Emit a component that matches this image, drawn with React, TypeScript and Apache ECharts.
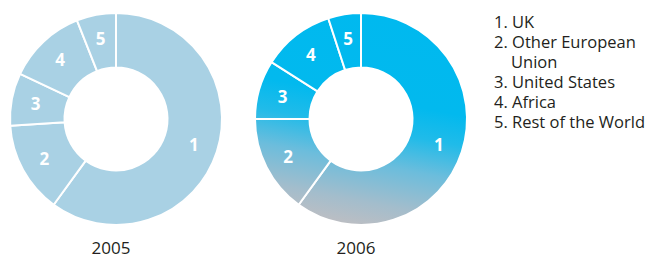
import React, { useEffect, useRef } from "react";
import * as echarts from "echarts";

const categories = ["1", "2", "3", "4", "5"];
const values2005 = [60, 14, 8, 12, 6];
const values2006 = [60, 15, 9, 11, 5];
const years = ["2005", "2006"];
const legendLines = [
  "1. UK",
  "2. Other European",
  "Union",
  "3. United States",
  "4. Africa",
  "5. Rest of the World",
];
const legendIndent = [0, 0, 1, 0, 0, 0];

export default function App() {
  const ref = useRef<HTMLDivElement>(null);
  useEffect(() => {
    if (!ref.current) return;
    const chart = echarts.init(ref.current, null, { renderer: "svg" });
    const label = {
      show: true,
      position: "inside",
      formatter: "{b}",
      color: "#ffffff",
      fontFamily: "Open Sans",
      fontWeight: "bold",
      fontSize: 17,
    };
    const gradient = {
      type: "linear",
      x: 385,
      y: 14,
      x2: 345,
      y2: 224,
      global: true,
      colorStops: [
        { offset: 0, color: "#00b9ef" },
        { offset: 0.4, color: "#02b9ee" },
        { offset: 0.54, color: "#20bbe9" },
        { offset: 0.7, color: "#6cbddc" },
        { offset: 0.88, color: "#a3bdcc" },
        { offset: 1, color: "#bcbec3" },
      ],
    };
    const centers = [
      [116, 119],
      [361, 119],
    ];
    const graphic: any[] = [];
    years.forEach((y, i) => {
      graphic.push({
        type: "text",
        x: centers[i][0] - 5,
        y: 247,
        style: {
          text: y,
          textAlign: "center",
          textVerticalAlign: "middle",
          font: "17px 'Open Sans'",
          lineHeight: 14,
          fill: "#231f20",
        },
      });
    });
    legendLines.forEach((t, i) => {
      graphic.push({
        type: "text",
        x: 494 + legendIndent[i] * 17,
        y: 21 + i * 20,
        style: {
          text: t,
          textAlign: "left",
          textVerticalAlign: "middle",
          font: "16.5px 'Open Sans'",
          lineHeight: 18,
          fill: "#231f20",
        },
      });
    });
    chart.setOption({
      animation: false,
      series: [
        {
          type: "pie",
          center: centers[0],
          radius: [51.5, 106],
          startAngle: 90,
          clockwise: true,
          label,
          labelLine: { show: false },
          itemStyle: { color: "#a9d1e4", borderColor: "#ffffff", borderWidth: 2 },
          emphasis: { disabled: true },
          data: categories.map((c, i) => ({ name: c, value: values2005[i] })),
        },
        {
          type: "pie",
          center: centers[1],
          radius: [51.5, 106],
          startAngle: 90,
          clockwise: true,
          label,
          labelLine: { show: false },
          itemStyle: { color: gradient, borderColor: "#ffffff", borderWidth: 2 },
          emphasis: { disabled: true },
          data: categories.map((c, i) => ({ name: c, value: values2006[i] })),
        },
      ],
      graphic,
    });
    return () => chart.dispose();
  }, []);
  return (
    <div
      ref={ref}
      style={{ position: "fixed", left: 0, top: 0, width: 652, height: 255, background: "#fff" }}
    />
  );
}
